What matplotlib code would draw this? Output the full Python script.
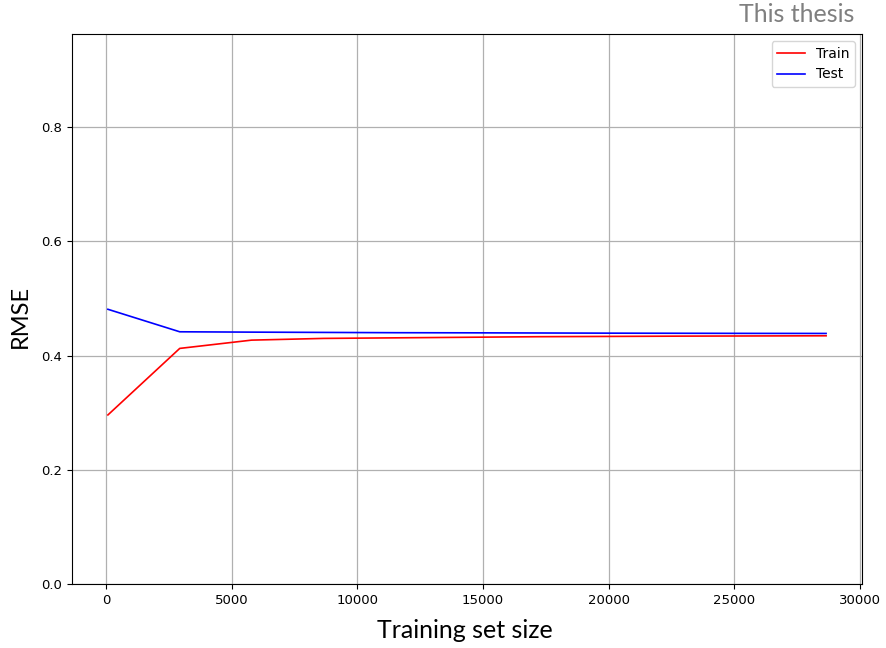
import matplotlib
matplotlib.use("Agg")
import matplotlib.pyplot as plt

train_sizes = [80, 2938, 5796, 8654, 11511, 14368, 17226, 20084, 22941, 25798, 28656]
train_rmse = [0.296, 0.4125, 0.427, 0.430, 0.431, 0.432, 0.433, 0.4335, 0.434, 0.4343, 0.4346]
test_rmse = [0.481, 0.4416, 0.441, 0.4405, 0.440, 0.4398, 0.4395, 0.4392, 0.439, 0.4388, 0.4387]

fig = plt.figure(figsize=(8.86, 6.48), dpi=100)
ax = fig.add_axes([72/886, 64/648, 790/886, 550/648])
ax.plot(train_sizes, train_rmse, color="red", lw=1.2, label="Train")
ax.plot(train_sizes, test_rmse, color="blue", lw=1.2, label="Test")
ax.set_ylim(0, 0.963)
ax.set_xticks([0, 5000, 10000, 15000, 20000, 25000, 30000])
ax.set_yticks([0.0, 0.2, 0.4, 0.6, 0.8])
ax.grid(True, color="#b0b0b0", lw=0.9)
ax.tick_params(labelsize=9.5)
ax.legend(loc="upper right", fontsize=10)

fig.text(20/886, 1 - 316/648, "RMSE", rotation=90, ha="center", va="center",
         fontsize=17, family="Lato")
fig.text(465/886, 1 - 630/648, "Training set size", ha="center", va="center",
         fontsize=18, family="Lato")
fig.text(854/886, 1 - 14/648, "This thesis", ha="right", va="center",
         fontsize=18, color="#808080", family="Lato")

fig.savefig("out.png", dpi=100)
